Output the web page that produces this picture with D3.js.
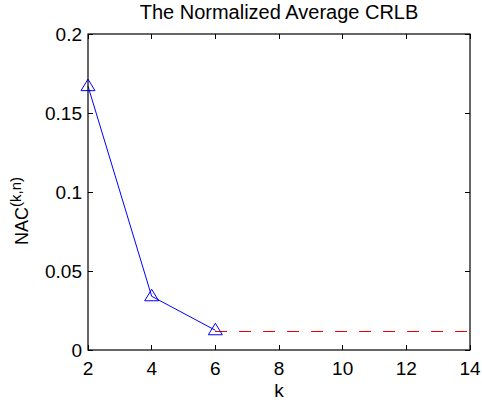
<!DOCTYPE html>
<html>
<head>
<meta charset="utf-8">
<script src="https://cdn.jsdelivr.net/npm/d3@7"></script>
<style>
body { margin: 0; background: #fff; }
text { font-family: "Liberation Sans", Arial, sans-serif; fill: #000; }
</style>
</head>
<body>
<div id="chart"></div>
<script>
// data
var kValues = [2, 4, 6];
var nacValues = [0.167, 0.034, 0.0125];
var limitK = [6, 14];
var limitValue = [0.012, 0.012];
var xTicks = [2, 4, 6, 8, 10, 12, 14];
var yTicks = [0, 0.05, 0.1, 0.15, 0.2];
var yTickLabels = ["0", "0.05", "0.1", "0.15", "0.2"];

var W = 482, H = 402;
var pLeft = 88, pRight = 470, pTop = 34, pBottom = 350;

var svg = d3.select("#chart").append("svg")
	.attr("width", W).attr("height", H);

var x = d3.scaleLinear().domain([2, 14]).range([pLeft, pRight]);
var y = d3.scaleLinear().domain([0, 0.2]).range([pBottom, pTop]);

// ticks on all four sides, pointing inward
var tl = 5;
var g = svg.append("g").attr("stroke", "#000").attr("stroke-width", 1)
	.attr("shape-rendering", "crispEdges");
xTicks.forEach(function (t) {
	g.append("line").attr("x1", x(t)).attr("x2", x(t)).attr("y1", pBottom).attr("y2", pBottom - tl);
	g.append("line").attr("x1", x(t)).attr("x2", x(t)).attr("y1", pTop).attr("y2", pTop + tl);
});
yTicks.forEach(function (t) {
	g.append("line").attr("x1", pLeft).attr("x2", pLeft + tl).attr("y1", y(t)).attr("y2", y(t));
	g.append("line").attr("x1", pRight).attr("x2", pRight - tl).attr("y1", y(t)).attr("y2", y(t));
});

// tick labels
svg.selectAll(".xl").data(xTicks).enter().append("text")
	.attr("x", function (d) { return x(d); })
	.attr("y", pBottom + 25)
	.attr("text-anchor", "middle")
	.attr("font-size", 19)
	.text(function (d) { return d; });
svg.selectAll(".yl").data(yTicks).enter().append("text")
	.attr("x", pLeft - 6)
	.attr("y", function (d) { return y(d) + 7; })
	.attr("text-anchor", "end")
	.attr("font-size", 19)
	.text(function (d, i) { return yTickLabels[i]; });

// dashed limit line
svg.append("path")
	.datum(d3.zip(limitK, limitValue))
	.attr("fill", "none")
	.attr("stroke", "#ee0000")
	.attr("stroke-width", 1)
	.attr("shape-rendering", "crispEdges")
	.attr("stroke-dasharray", "12,12")
	.attr("d", d3.line().x(function (d) { return x(d[0]); }).y(function (d) { return y(d[1]); }));

// blue curve
var pts = d3.zip(kValues, nacValues);
svg.append("path")
	.datum(pts)
	.attr("fill", "none")
	.attr("stroke", "#0000ff")
	.attr("stroke-width", 1)
	.attr("d", d3.line().x(function (d) { return x(d[0]); }).y(function (d) { return y(d[1]); }));

// triangle markers
svg.selectAll(".mk").data(pts).enter().append("path")
	.attr("transform", function (d) { return "translate(" + x(d[0]) + "," + y(d[1]) + ")"; })
	.attr("d", "M0,-7L7,4.5L-7,4.5Z")
	.attr("fill", "none")
	.attr("stroke", "#0000ff")
	.attr("stroke-width", 1);

// box
svg.append("rect")
	.attr("x", pLeft).attr("y", pTop)
	.attr("width", pRight - pLeft).attr("height", pBottom - pTop)
	.attr("fill", "none").attr("stroke", "#000").attr("stroke-width", 1.2);

// titles
svg.append("text").attr("x", (pLeft + pRight) / 2).attr("y", 19)
	.attr("text-anchor", "middle").attr("font-size", 20)
	.text("The Normalized Average CRLB");
svg.append("text").attr("x", (pLeft + pRight) / 2).attr("y", 397)
	.attr("text-anchor", "middle").attr("font-size", 19)
	.text("k");

var yl = svg.append("text")
	.attr("transform", "translate(28,245) rotate(-90)")
	.attr("text-anchor", "start").attr("font-size", 18);
yl.append("tspan").text("NAC");
yl.append("tspan").attr("font-size", 15).attr("dy", -7).text("(k,n)");
</script>
</body>
</html>
